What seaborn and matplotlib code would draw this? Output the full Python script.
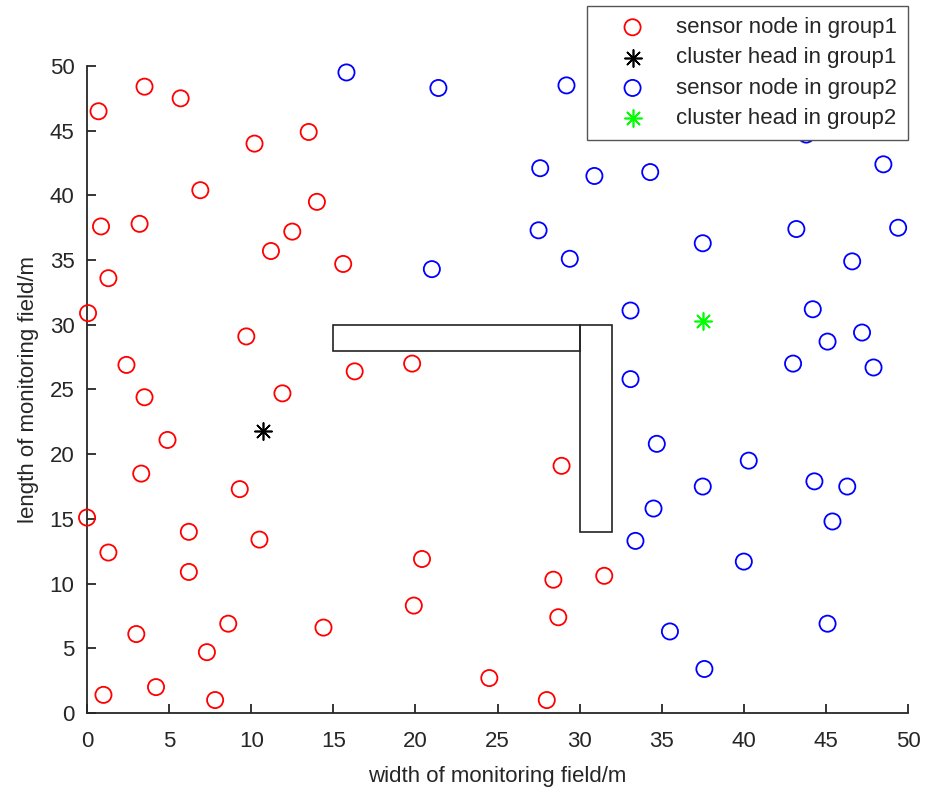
import seaborn as sns
import matplotlib.pyplot as plt
from matplotlib.patches import Rectangle

# Nodos del grupo 1 (rojos)
g1_x = [0.7, 3.5, 5.7, 10.2, 13.5, 6.9, 14.0, 0.85, 3.2, 12.5, 11.2, 15.6, 1.3, 0.06,
        9.7, 2.4, 16.3, 19.8, 11.9, 3.5, 4.9, 3.3, 9.3, 0.0, 6.2, 10.5, 1.3, 6.2,
        20.4, 8.6, 3.0, 14.4, 7.3, 4.2, 1.0, 7.8, 19.9, 24.5, 28.0, 28.4, 28.7, 28.9, 31.5]
g1_y = [46.5, 48.4, 47.5, 44.0, 44.9, 40.4, 39.5, 37.6, 37.8, 37.2, 35.7, 34.7, 33.6, 30.9,
        29.1, 26.9, 26.4, 27.0, 24.7, 24.4, 21.1, 18.5, 17.3, 15.1, 14.0, 13.4, 12.4, 10.9,
        11.9, 6.9, 6.1, 6.6, 4.7, 2.0, 1.4, 1.0, 8.3, 2.7, 1.0, 10.3, 7.4, 19.1, 10.6]

# Nodos del grupo 2 (azules)
g2_x = [15.8, 21.4, 29.2, 27.6, 30.9, 34.3, 43.8, 48.5, 27.5, 21.0, 29.4, 37.5, 43.2, 49.4,
        46.6, 33.1, 44.2, 47.2, 45.1, 43.0, 47.9, 33.1, 34.7, 40.3, 37.5, 44.3, 46.3, 34.5,
        45.4, 33.4, 40.0, 35.5, 45.1, 37.6]
g2_y = [49.5, 48.3, 48.5, 42.1, 41.5, 41.8, 44.7, 42.4, 37.3, 34.3, 35.1, 36.3, 37.4, 37.5,
        34.9, 31.1, 31.2, 29.4, 28.7, 27.0, 26.7, 25.8, 20.8, 19.5, 17.5, 17.9, 17.5, 15.8,
        14.8, 13.3, 11.7, 6.3, 6.9, 3.4]

# Cabezas de cluster
ch1_x, ch1_y = [10.7], [21.8]
ch2_x, ch2_y = [37.5], [30.3]

# Obstaculo en forma de L (x, y, ancho, alto)
obs_x = [15, 30]
obs_y = [28, 14]
obs_w = [15, 2]
obs_h = [2, 16]

sns.set_style('white')
plt.rcParams['font.family'] = ['Liberation Sans', 'DejaVu Sans']

fig = plt.figure(figsize=(9.29, 7.93), dpi=100)
ax = fig.add_axes([0.0937, 0.1009, 0.8837, 0.8159])

for x0, y0, w, h in zip(obs_x, obs_y, obs_w, obs_h):
    ax.add_patch(Rectangle((x0, y0), w, h, fill=False, ec='#222222', lw=1.2))

asterisco = (8, 2, 0)
sns.scatterplot(x=g1_x, y=g1_y, marker='o', s=135, facecolors='none', edgecolor='#ff0000',
                linewidth=1.3, label='sensor node in group1', ax=ax, clip_on=False, zorder=3)
sns.scatterplot(x=ch1_x, y=ch1_y, marker=asterisco, s=150, color='k',
                linewidth=1.2, label='cluster head in group1', ax=ax, clip_on=False, zorder=3)
sns.scatterplot(x=g2_x, y=g2_y, marker='o', s=135, facecolors='none', edgecolor='#0000ff',
                linewidth=1.3, label='sensor node in group2', ax=ax, clip_on=False, zorder=3)
sns.scatterplot(x=ch2_x, y=ch2_y, marker=asterisco, s=150, color='#00ff00',
                linewidth=1.2, label='cluster head in group2', ax=ax, clip_on=False, zorder=3)

ax.set_xlim(0, 50)
ax.set_ylim(0, 50)
ax.set_xticks(range(0, 51, 5))
ax.set_yticks(range(0, 51, 5))
sns.despine(ax=ax)
for lado in ['left', 'bottom']:
    ax.spines[lado].set_color('#262626')
    ax.spines[lado].set_linewidth(1.3)
ax.tick_params(bottom=True, left=True, direction='in', length=6.5, width=1.3,
               color='#262626', labelsize=16, labelcolor='#262626')
ax.tick_params(axis='x', pad=13)
ax.tick_params(axis='y', pad=9)

ax.set_xlabel('width of monitoring field/m', fontsize=16, color='#262626', labelpad=10)
ax.set_ylabel('length of monitoring field/m', fontsize=16, color='#262626', labelpad=8)

leg = ax.legend(loc='upper right', bbox_to_anchor=(908 / 929, 1 - 6 / 793),
                bbox_transform=fig.transFigure, fontsize=16, frameon=True,
                fancybox=False, framealpha=1, edgecolor='#555555',
                handlelength=3.1, handletextpad=0.4, borderpad=0.5,
                labelspacing=0.42, borderaxespad=0)
leg.set_zorder(5)

plt.savefig('out.png', dpi=100)
